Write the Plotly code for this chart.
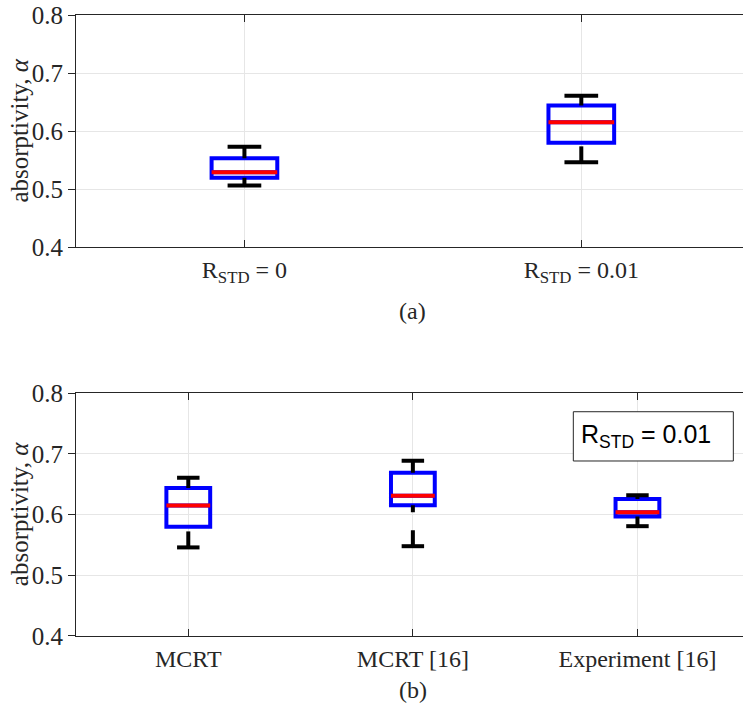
import plotly.graph_objects as go

# (a) effect of surface roughness R_STD
labels_a = ["R<sub>STD</sub> = 0", "R<sub>STD</sub> = 0.01"]
lo_a = [0.506, 0.546]
q1_a = [0.5195, 0.580]
med_a = [0.529, 0.615]
q3_a = [0.553, 0.644]
hi_a = [0.573, 0.661]

# (b) comparison with reference [16] at R_STD = 0.01
labels_b = ["MCRT", "MCRT [16]", "Experiment [16]"]
lo_b = [0.546, 0.548, 0.581]
q1_b = [0.580, 0.6155, 0.597]
med_b = [0.615, 0.631, 0.604]
q3_b = [0.644, 0.669, 0.626]
hi_b = [0.661, 0.689, 0.632]

y_ticks = [0.4, 0.5, 0.6, 0.7, 0.8]

BOX_W = 0.195
CAP_W = 0.10
SERIF = "Liberation Serif"
SANS = "Liberation Sans"
INK = "#262626"

fig = go.Figure()


def add_panel(fig, labels, lo, q1, med, q3, hi, xa, ya):
    pos = list(range(1, len(labels) + 1))
    # whiskers: dashed, drawn from the cap toward the box
    for p, l, a, b, h in zip(pos, lo, q1, q3, hi):
        for fence, edge in ((l, a), (h, b)):
            fig.add_trace(go.Scatter(
                x=[p, p], y=[fence, edge], mode="lines",
                line=dict(color="black", width=4, dash="16px,18px"),
                xaxis=xa, yaxis=ya, showlegend=False, hoverinfo="skip"))
            fig.add_trace(go.Scatter(
                x=[p - CAP_W / 2, p + CAP_W / 2], y=[fence, fence], mode="lines",
                line=dict(color="black", width=4),
                xaxis=xa, yaxis=ya, showlegend=False, hoverinfo="skip"))
    # boxes (interquartile range)
    fig.add_trace(go.Box(
        x=pos, q1=q1, median=med, q3=q3, lowerfence=q1, upperfence=q3,
        width=BOX_W, whiskerwidth=0, boxpoints=False,
        line=dict(color="#0000ff", width=4), fillcolor="rgba(0,0,0,0)",
        xaxis=xa, yaxis=ya, showlegend=False, hoverinfo="skip"))
    # medians
    for p, m in zip(pos, med):
        fig.add_trace(go.Scatter(
            x=[p - BOX_W / 2, p + BOX_W / 2], y=[m, m], mode="lines",
            line=dict(color="#ff0000", width=4),
            xaxis=xa, yaxis=ya, showlegend=False, hoverinfo="skip"))
    return pos


pos_a = add_panel(fig, labels_a, lo_a, q1_a, med_a, q3_a, hi_a, "x", "y")
pos_b = add_panel(fig, labels_b, lo_b, q1_b, med_b, q3_b, hi_b, "x2", "y2")

xcommon = dict(
    ticks="inside", ticklen=7, tickcolor=INK, tickwidth=1,
    showline=True, linecolor=INK, linewidth=1, mirror="ticks",
    showgrid=True, gridcolor="#e6e6e6", gridwidth=1, zeroline=False,
    tickfont=dict(family=SERIF, size=24, color=INK),
    ticklabelstandoff=1, automargin=False,
)
ycommon = dict(
    range=[0.4, 0.8], tickvals=y_ticks, ticktext=[f"{v:.1f}" for v in y_ticks],
    ticks="outside", ticklen=7, tickcolor=INK, tickwidth=1,
    showline=True, linecolor=INK, linewidth=1,
    showgrid=True, gridcolor="#e6e6e6", gridwidth=1, zeroline=False,
    tickfont=dict(family=SERIF, size=25, color=INK), automargin=False,
)

fig.update_layout(
    width=743, height=705,
    margin=dict(l=76, r=0, t=0, b=0),
    paper_bgcolor="white", plot_bgcolor="white",
    xaxis=dict(domain=[0, 1], range=[0.5, 2.48], tickvals=pos_a,
               ticktext=labels_a, anchor="y", **xcommon),
    yaxis=dict(domain=[0.6496, 0.9787], anchor="x", **ycommon),
    xaxis2=dict(domain=[0, 1], range=[0.5, 3.47], tickvals=pos_b,
                ticktext=labels_b, anchor="y2", **xcommon),
    yaxis2=dict(domain=[0.0979, 0.4421], anchor="x2", **ycommon),
)

ytitle = "absorptivity, <i>α</i>"
for yc in (0.8141, 0.27):
    fig.add_annotation(
        text=ytitle, textangle=-90, xref="paper", yref="paper",
        x=0, y=yc, xanchor="center", yanchor="middle", xshift=-56.5,
        showarrow=False, font=dict(family=SERIF, size=25, color=INK))

for txt, yc in (("(a)", 0.5582), ("(b)", 0.0214)):
    fig.add_annotation(
        text=txt, xref="paper", yref="paper", x=0.5045, y=yc,
        xanchor="center", yanchor="middle", showarrow=False,
        font=dict(family=SERIF, size=24, color=INK))

# legend-style note in panel (b)
fig.add_shape(type="rect", xref="paper", yref="paper",
              x0=0.7456, x1=0.9855, y0=0.3461, y1=0.4160,
              line=dict(color=INK, width=1), fillcolor="white", layer="above")
fig.add_annotation(
    text="R<sub>STD</sub> = 0.01", xref="paper", yref="paper",
    x=0.7535, y=0.381, xanchor="left", yanchor="middle", showarrow=False,
    font=dict(family=SANS, size=25, color="black"))

fig.write_html("out.html")
